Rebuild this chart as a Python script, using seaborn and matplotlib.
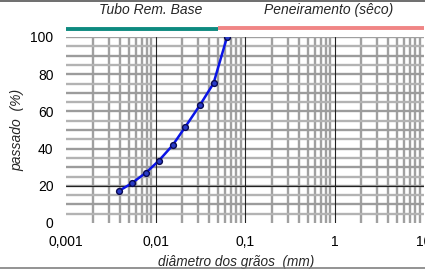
import numpy as np
import pandas as pd
import seaborn as sns
import matplotlib.pyplot as plt
from matplotlib.lines import Line2D
from matplotlib.ticker import FixedLocator, FixedFormatter, NullFormatter

# === DADOS ===
diametro = [0.0039, 0.0054, 0.0078, 0.0109, 0.0156, 0.0216, 0.0313, 0.0445, 0.063]
passado = [17.2, 21.3, 27.0, 33.5, 41.9, 51.8, 63.3, 75.1, 100.0]

x_ticks = [0.001, 0.01, 0.1, 1, 10]
x_labels = ['0,001', '0,01', '0,1', '1', '10']
y_ticks = [0, 20, 40, 60, 80, 100]

limite_tubo = 0.05  # fim do trecho "Tubo Rem. Base"

df = pd.DataFrame({'diametro': diametro, 'passado': passado})

sns.set_style('white')
plt.rcParams['font.family'] = ['Liberation Sans', 'DejaVu Sans']

fig = plt.figure(figsize=(4.25, 2.73), dpi=100)
ax = fig.add_axes([66 / 425, 1 - 223 / 273, (424 - 66) / 425, (223 - 37) / 273])

# === GRADE ===
minor_x = [m * 10.0 ** e for e in range(-3, 1) for m in range(2, 10)]
for xv in minor_x:
    ax.axvline(xv, color='#a0a0a0', lw=1.7, zorder=1)
for xv in [0.01, 0.1, 1]:
    ax.axvline(xv, color='#222222', lw=0.8, zorder=2)
for i, yv in enumerate(range(5, 100, 5)):
    ax.axhline(yv, color='#9c9c9c' if i % 2 else '#b3b3b3', lw=1.7, zorder=1)
ax.axhline(20, color='#222222', lw=0.8, zorder=2)
ax.axhline(100, color='#a0a0a0', lw=1.7, zorder=1)

# === CURVA ===
sns.lineplot(data=df, x='diametro', y='passado', ax=ax, color='#0a14e6', lw=1.8,
             marker='o', markersize=4.2, markerfacecolor='#2a3cc8',
             markeredgecolor='#0a0a50', markeredgewidth=1.0, zorder=5)

ax.set_xscale('log')
ax.set_xlim(0.001, 10)
ax.set_ylim(0, 100)
ax.xaxis.set_major_locator(FixedLocator(x_ticks))
ax.xaxis.set_major_formatter(FixedFormatter(x_labels))
ax.xaxis.set_minor_formatter(NullFormatter())
ax.set_yticks(y_ticks)
ax.tick_params(axis='both', labelsize=10, length=0, colors='black')
ax.tick_params(axis='x', pad=9)
ax.tick_params(axis='y', pad=9)
ax.tick_params(axis='x', which='minor', length=0)
for s in ax.spines.values():
    s.set_visible(False)

ax.set_xlabel('diâmetro dos grãos  (mm)', fontsize=9.8, style='italic')
ax.set_ylabel('passado  (%)', fontsize=10, style='italic')
ax.xaxis.set_label_coords((236 - 66) / (424 - 66), -(262 - 223) / 186)
ax.xaxis.label.set_va('center')
ax.yaxis.set_label_coords(-(66 - 17) / 358, (223 - 130) / 186)
ax.yaxis.label.set_va('center')

# === FAIXAS DO TOPO ===
trans = ax.get_xaxis_transform()
ax.plot([0.001, limite_tubo], [1.045, 1.045], color='#0e8a80', lw=2.8,
        transform=trans, clip_on=False, solid_capstyle='butt')
ax.plot([limite_tubo, 10], [1.05, 1.05], color='#f08585', lw=2.8,
        transform=trans, clip_on=False, solid_capstyle='butt')
fig.text(151 / 425, 1 - 10 / 273, 'Tubo Rem. Base', fontsize=10, style='italic',
         ha='center', va='center')
fig.text(329 / 425, 1 - 10 / 273, 'Peneiramento (sêco)', fontsize=10, style='italic',
         ha='center', va='center')

# bordas da figura
fig.add_artist(Line2D([0, 1], [1 - 0.5 / 273, 1 - 0.5 / 273], color='#555555', lw=1.2))
fig.add_artist(Line2D([0, 1], [1 - 268 / 273, 1 - 268 / 273], color='#808080', lw=1.2))

fig.savefig('out.png', dpi=100)
